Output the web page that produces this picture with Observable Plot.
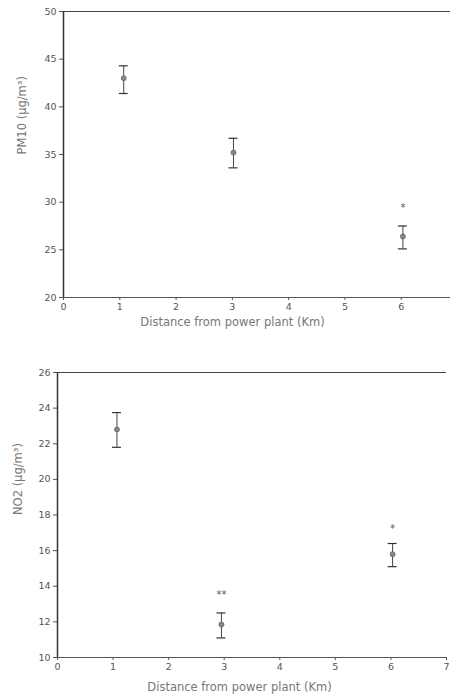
<!DOCTYPE html>
<html>
<head>
<meta charset="utf-8">
<script src="https://cdn.jsdelivr.net/npm/d3@7"></script>
<script src="https://cdn.jsdelivr.net/npm/@observablehq/plot@0.6"></script>
<style>
  html, body { margin: 0; padding: 0; background: #fff; }
  #charts { width: 450px; }
  svg { display: block; }
</style>
</head>
<body>
<div id="charts"></div>
<script>
// Shared x categories (distance from power plant, km)
const distance = [1.07, 3.02, 6.03];
const distanceNo2 = [1.07, 2.95, 6.03];

// PM10 panel
const pm10Mean = [43.0, 35.2, 26.4];
const pm10High = [44.3, 36.7, 27.5];
const pm10Low = [41.4, 33.6, 25.1];
const pm10SigLabel = ["", "", "*"];
const pm10SigY = [null, null, 29.4];
const pm10Ticks = [20, 25, 30, 35, 40, 45, 50];
const pm10XTicks = [0, 1, 2, 3, 4, 5, 6];

// NO2 panel
const no2Mean = [22.8, 11.85, 15.8];
const no2High = [23.75, 12.5, 16.4];
const no2Low = [21.8, 11.1, 15.1];
const no2SigLabel = ["", "**", "*"];
const no2SigY = [null, 13.5, 17.2];
const no2Ticks = [10, 12, 14, 16, 18, 20, 22, 24, 26];
const no2XTicks = [0, 1, 2, 3, 4, 5, 6, 7];

const xTitle = "Distance from power plant (Km)";
const pm10Title = "PM10 (μg/m³)";
const no2Title = "NO2 (μg/m³)";

const font = "DejaVu Sans, Liberation Sans, sans-serif";

function panel({x, mean, high, low, sigLabel, sigY, yTicks, xTicks, yTitle,
                height, marginTop, marginBottom, marginLeft, marginRight, xRange, yDomain, xDomain, yTitleDx, xTitleDy}) {
  const data = x.map((d, i) => ({x: d, m: mean[i], hi: high[i], lo: low[i], s: sigLabel[i], sy: sigY[i]}));
  const sig = data.filter(d => d.s);
  const svg = Plot.plot({
    width: 450,
    height,
    marginTop, marginBottom, marginLeft, marginRight,
    style: {fontFamily: font, background: "#fff", color: "#555", fontSize: "9.5px"},
    x: {domain: xDomain, range: xRange, ticks: xTicks, tickFormat: "d", tickSize: 3, tickPadding: 3, label: null},
    y: {domain: yDomain, ticks: yTicks, tickFormat: "d", tickSize: 4, tickPadding: 3, label: null},
    marks: [
      Plot.ruleY([yDomain[0]], {x1: xDomain[0], x2: xDomain[1], stroke: "#555", strokeWidth: 1.2}),
      Plot.ruleY([yDomain[1]], {x1: xDomain[0], x2: xDomain[1], stroke: "#444", strokeWidth: 1.2}),
      Plot.ruleX([xDomain[0]], {stroke: "#333", strokeWidth: 1.5}),
      Plot.text([yTitle], {frameAnchor: "left", rotate: -90, dx: yTitleDx, fill: "#777", fontSize: 11.5, text: d => d}),
      Plot.text([xTitle], {frameAnchor: "bottom", dy: xTitleDy, fill: "#777", fontSize: 11.5, text: d => d}),
      Plot.ruleX(data, {x: "x", y1: "lo", y2: "hi", stroke: "#444", strokeWidth: 1}),
      Plot.ruleY(data, {y: "hi", x1: "x", x2: "x", insetLeft: -4.5, insetRight: -4.5, stroke: "#333", strokeWidth: 1.2}),
      Plot.ruleY(data, {y: "lo", x1: "x", x2: "x", insetLeft: -4.5, insetRight: -4.5, stroke: "#333", strokeWidth: 1.2}),
      Plot.dot(data, {x: "x", y: "m", r: 2.5, fill: "#888", stroke: "#666", strokeWidth: 0.8}),
      Plot.text(sig, {x: "x", y: "sy", text: "s", fill: "#555", fontSize: 10})
    ]
  });
  d3.select(svg).selectAll("g[aria-label$='axis'] text").attr("fill", "#999");
  return svg;
}

const pmChart = panel({
  x: distance, mean: pm10Mean, high: pm10High, low: pm10Low,
  sigLabel: pm10SigLabel, sigY: pm10SigY, yTicks: pm10Ticks, xTicks: pm10XTicks,
  yTitle: pm10Title, height: 330, marginTop: 11, marginBottom: 33,
  marginLeft: 63, marginRight: 49, xRange: [63, 457], xDomain: [0, 7], yDomain: [20, 50],
  yTitleDx: -41, xTitleDy: 28
});
const no2Chart = panel({
  x: distanceNo2, mean: no2Mean, high: no2High, low: no2Low,
  sigLabel: no2SigLabel, sigY: no2SigY, yTicks: no2Ticks, xTicks: no2XTicks,
  yTitle: no2Title, height: 367, marginTop: 42, marginBottom: 40,
  marginLeft: 57, marginRight: 29, xRange: [57, 446], xDomain: [0, 7], yDomain: [10, 26],
  yTitleDx: -39, xTitleDy: 33
});
document.getElementById("charts").append(pmChart, no2Chart);
</script>
</body>
</html>
